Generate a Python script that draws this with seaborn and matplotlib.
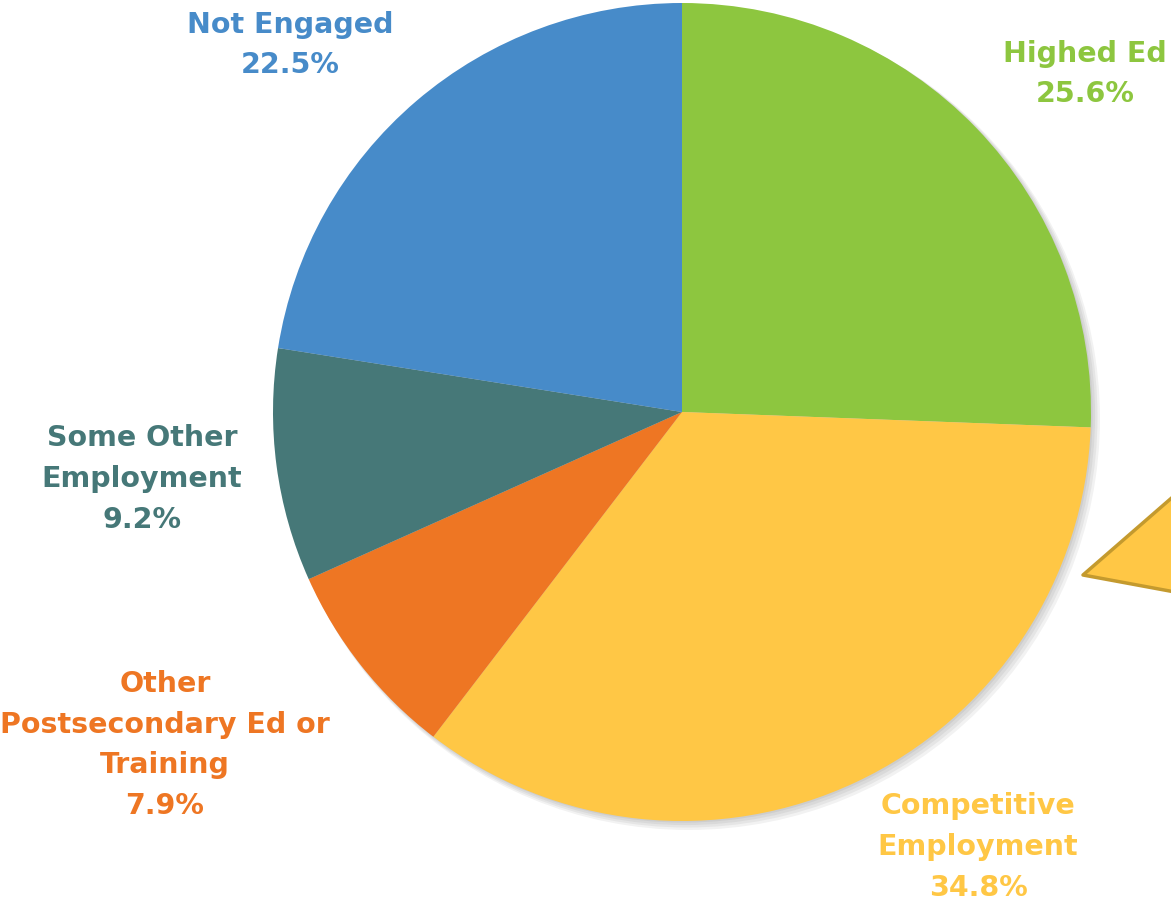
import matplotlib
matplotlib.use("Agg")
import matplotlib.pyplot as plt
import seaborn as sns
from matplotlib.patches import Circle, Polygon

sns.set_theme(style="white")
plt.rcParams['font.family'] = ['DejaVu Sans']

categories = ["Highed Ed", "Competitive\nEmployment", "Other\nPostsecondary Ed or\nTraining",
              "Some Other\nEmployment", "Not Engaged"]
values = [25.6, 34.8, 7.9, 9.2, 22.5]
colors = ["#8DC63F", "#FFC745", "#EE7623", "#467878", "#478BC9"]

# label anchor positions in pixel space (x, y from top)
label_px = [(1085, 74), (978, 847), (165, 745), (142, 479), (290, 45)]

W, H = 1171, 908
cx, cy, R = 682, 412, 409

fig = plt.figure(figsize=(W / 100, H / 100), dpi=100)
ax = fig.add_axes([0, 0, 1, 1])
ax.set_xlim(-cx / R, (W - cx) / R)
ax.set_ylim(-(H - cy) / R, cy / R)
ax.set_aspect('equal')
ax.axis('off')

def px(x, y):
    return ((x - cx) / R, (cy - y) / R)

# soft shadow
for i, a in enumerate([0.05, 0.05, 0.05, 0.05]):
    ax.add_patch(Circle((0.004 + 0.004 * i, -0.004 - 0.004 * i), 1.0 + 0.002 * i,
                        color="#000000", alpha=a, lw=0, zorder=0))

ax.pie(values, colors=colors, startangle=90, counterclock=False, radius=1.0,
       center=(0, 0), wedgeprops=dict(linewidth=0, zorder=2))
ax.set_xlim(-cx / R, (W - cx) / R)
ax.set_ylim(-(H - cy) / R, cy / R)

# callout fragment at the right edge
ax.add_patch(Polygon([px(1083, 575), px(1175, 495), px(1175, 592)], closed=True,
                     facecolor="#FFC745", edgecolor="#C49A2E", lw=2.5, zorder=3,
                     joinstyle='round'))

for cat, v, c, (lx, ly) in zip(categories, values, colors, label_px):
    x, y = px(lx, ly)
    ax.text(x, y, f"{cat}\n{v:.1f}%", color=c, ha='center', va='center',
            fontsize=20.5, fontweight='bold',
            linespacing=1.58, zorder=5)

fig.savefig("out.png", dpi=100)
